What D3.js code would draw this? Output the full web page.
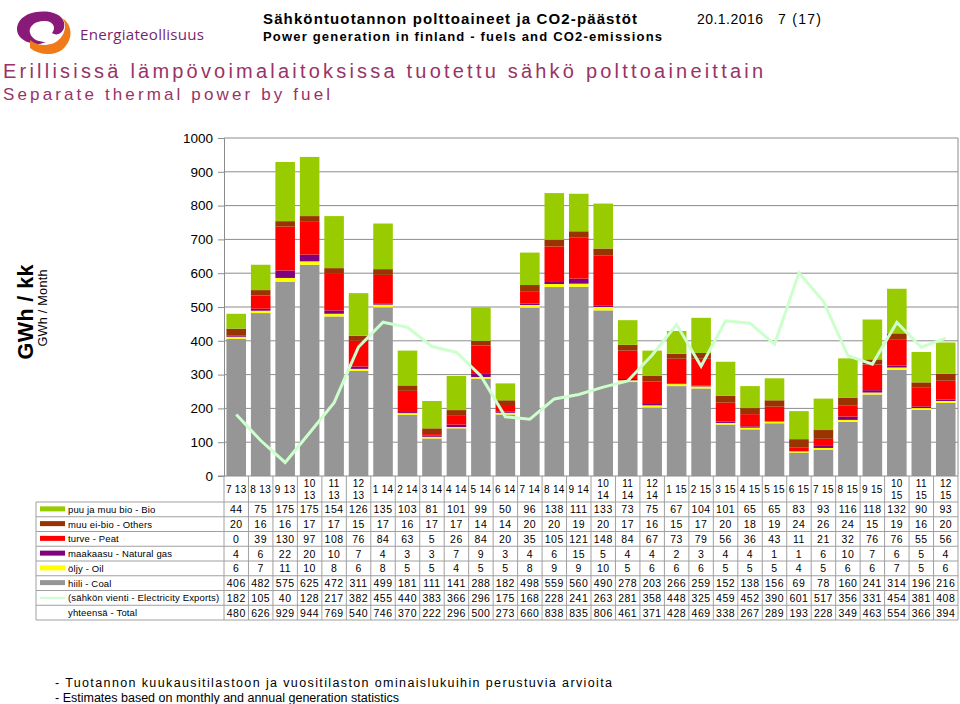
<!DOCTYPE html>
<html><head><meta charset="utf-8">
<script src="https://cdn.jsdelivr.net/npm/d3@7"></script>
<style>
body{margin:0;background:#fff;}
svg{font-family:"Liberation Sans",Arial,sans-serif;}
</style></head>
<body>
<svg id="c" width="960" height="704"></svg>
<script>
const categories = ["7 13","8 13","9 13","10 13","11 13","12 13","1 14","2 14","3 14","4 14","5 14","6 14","7 14","8 14","9 14","10 14","11 14","12 14","1 15","2 15","3 15","4 15","5 15","6 15","7 15","8 15","9 15","10 15","11 15","12 15"];
const bio    = [44,75,175,175,154,126,135,103,81,101,99,50,96,138,111,133,73,75,67,104,101,65,65,83,93,116,118,132,90,93];
const others = [20,16,16,17,17,15,17,16,17,17,14,14,20,20,19,20,17,16,15,17,20,18,19,24,26,24,15,19,16,20];
const peat   = [0,39,130,97,108,76,84,63,5,26,84,20,35,105,121,148,84,67,73,79,56,36,43,11,21,32,76,76,55,56];
const gas    = [4,6,22,20,10,7,4,3,3,7,9,3,4,6,15,5,4,4,2,3,4,4,1,1,6,10,7,6,5,4];
const oil    = [6,7,11,10,8,6,8,5,5,4,5,5,8,9,9,10,5,6,6,6,5,5,5,4,5,6,6,7,5,6];
const coal   = [406,482,575,625,472,311,499,181,111,141,288,182,498,559,560,490,278,203,266,259,152,138,156,69,78,160,241,314,196,216];
const exportsLine = [182,105,40,128,217,382,455,440,383,366,296,175,168,228,241,263,281,358,448,325,459,452,390,601,517,356,331,454,381,408];
const total  = [480,626,929,944,769,540,746,370,222,296,500,273,660,838,835,806,461,371,428,469,338,267,289,193,228,349,463,554,366,394];
const yTicks = [0,100,200,300,400,500,600,700,800,900,1000];

const series = [
  {key:"coal", label:"hiili - Coal", values:coal, color:"#969696"},
  {key:"oil", label:"öljy - Oil", values:oil, color:"#ffff00"},
  {key:"gas", label:"maakaasu - Natural gas", values:gas, color:"#800080"},
  {key:"peat", label:"turve - Peat", values:peat, color:"#ff0000"},
  {key:"others", label:"muu ei-bio - Others", values:others, color:"#993300"},
  {key:"bio", label:"puu ja muu bio - Bio", values:bio, color:"#99cc00"}
];
const lineColor = "#ccffcc";
const purple = "#993366";

const svg = d3.select("#c");

function fit(t, size, len) {
  t.attr("font-size", size);
  if (!len) return t;
  const nat = t.node().getComputedTextLength();
  if (nat > len * 0.98) t.attr("font-size", size * len * 0.97 / nat);
  t.attr("textLength", len).attr("lengthAdjust", "spacing");
  return t;
}
function txt(xp, yp, size, s, len, opts) {
  const t = svg.append("text").attr("x",xp).attr("y",yp).text(s);
  if (opts) Object.entries(opts).forEach(([k,v])=>t.attr(k,v));
  return fit(t, size, len);
}

// ---- header / logo
const logo = svg.append("g");
logo.append("path").attr("d","M40,44 C22,44 14,34 18,24 C22,14 36,10 50,12 C60,14 66,20 64,28 C62,34 56,36 52,33 C56,28 54,22 46,21 C36,20 28,26 30,33 C32,40 40,42 46,42 Z").attr("fill","#8a1a7a");
logo.append("path").attr("d","M30,40 C40,48 56,46 62,36 C66,30 66,22 62,18 C72,24 74,38 64,48 C56,56 40,56 30,48 Z").attr("fill","#ee7a1a");
txt(80,40,17,"Energiateollisuus",124,{"fill":"#7a1f6e","font-family":"'Open Sans','Liberation Sans',sans-serif"});

txt(263,24,15,"Sähköntuotannon polttoaineet ja CO2-päästöt",374,{"font-weight":"bold"});
txt(263,41,13,"Power generation in finland - fuels and CO2-emissions",399,{"font-weight":"bold"});
txt(697,24,14,"20.1.2016",66);
txt(778,24,14,"7 (17)",43);

txt(3,78,20,"Erillisissä lämpövoimalaitoksissa tuotettu sähkö polttoaineittain",760,{"fill":purple});
txt(3,100,17,"Separate thermal power by fuel",327,{"fill":purple});

// ---- y axis title
const yt1 = svg.append("text").attr("transform","translate(33,312) rotate(-90)").attr("text-anchor","middle").attr("font-weight","bold").text("GWh / kk");
fit(yt1, 23, 95);
const yt2 = svg.append("text").attr("transform","translate(47,308) rotate(-90)").attr("text-anchor","middle").text("GWh / Month");
fit(yt2, 13.5, 77);

// ---- scales
const x0 = 224, x1 = 958, yBot = 476, yTop = 138;
const x = d3.scaleBand().domain(categories).range([x0,x1]).paddingInner(0.2).paddingOuter(0.1);
const y = d3.scaleLinear().domain([0,1000]).range([yBot,yTop]);

svg.append("g").selectAll("line").data(yTicks.filter(d=>d>0)).join("line")
  .attr("x1",x0).attr("x2",x1).attr("y1",d=>y(d)).attr("y2",d=>y(d))
  .attr("stroke","#8c8c8c").attr("stroke-width",1);
svg.append("line").attr("x1",x1).attr("x2",x1).attr("y1",yTop).attr("y2",yBot).attr("stroke","#8c8c8c");

const yAxis = d3.axisLeft(y).tickValues(yTicks).tickSize(6).tickPadding(5).tickFormat(d3.format("d"));
const ya = svg.append("g").attr("transform",`translate(${x0},0)`).call(yAxis);
ya.select(".domain").attr("stroke","#8c8c8c");
ya.selectAll(".tick line").attr("stroke","#8c8c8c");
ya.selectAll(".tick text").attr("font-size",13.5).attr("fill","#000").attr("font-family","'Liberation Sans',Arial,sans-serif");

const rows = categories.map((c,i)=>{const o={cat:c}; series.forEach(s=>o[s.key]=s.values[i]); return o;});
const stack = d3.stack().keys(series.map(s=>s.key))(rows);
svg.append("g").selectAll("g").data(stack).join("g")
  .attr("fill",(d,i)=>series[i].color)
  .selectAll("rect").data(d=>d).join("rect")
  .attr("x",d=>x(d.data.cat)).attr("width",x.bandwidth())
  .attr("y",d=>y(d[1])).attr("height",d=>Math.max(0,y(d[0])-y(d[1])));

const line = d3.line().x((d,i)=>x(categories[i])+x.bandwidth()/2).y(d=>y(d));
svg.append("path").datum(exportsLine).attr("d",line).attr("fill","none").attr("stroke",lineColor).attr("stroke-width",3).attr("stroke-linejoin","miter");

svg.append("line").attr("x1",x0-6).attr("x2",x1).attr("y1",yBot).attr("y2",yBot).attr("stroke","#8c8c8c");

// ---- data table
const step = x.step();
const colLeft = i => x0 + i*step;
const catTop = yBot, catBot = 502, rowH = 14.75, tLeft = 36;
const tableRows = series.slice().reverse().map(s=>({label:s.label,values:s.values,color:s.color,type:"bar"}));
tableRows.push({label:"(sähkön vienti - Electricity Exports)",values:exportsLine,color:lineColor,type:"line"});
tableRows.push({label:"yhteensä - Total",values:total,color:null,type:"none"});
const tBot = catBot + rowH*tableRows.length;
const tg = svg.append("g");
const gridStroke = "#a0a0a0";
d3.range(tableRows.length+1).forEach(r=>{
  tg.append("line").attr("x1",tLeft).attr("x2",x1).attr("y1",catBot+r*rowH).attr("y2",catBot+r*rowH).attr("stroke",gridStroke);
});
d3.range(categories.length+1).forEach(i=>{
  tg.append("line").attr("x1",colLeft(i)).attr("x2",colLeft(i)).attr("y1",catTop).attr("y2",tBot).attr("stroke",gridStroke);
});
tg.append("line").attr("x1",tLeft).attr("x2",tLeft).attr("y1",catBot).attr("y2",tBot).attr("stroke",gridStroke);

categories.forEach((c,i)=>{
  const parts = c.split(" ");
  const cx = colLeft(i)+step/2;
  const t = tg.append("text").attr("x",cx).attr("text-anchor","middle").attr("font-size",10).attr("letter-spacing","0.3px");
  if (+parts[0] >= 10) {
    t.append("tspan").attr("x",cx).attr("y",487).text(parts[0]);
    t.append("tspan").attr("x",cx).attr("y",499).text(parts[1]);
  } else {
    t.attr("y",493).text(c);
  }
});
tableRows.forEach((r,ri)=>{
  const cy = catBot + ri*rowH + rowH/2;
  if (r.type==="bar") tg.append("rect").attr("x",40).attr("y",cy-3).attr("width",25).attr("height",5).attr("fill",r.color);
  if (r.type==="line") tg.append("line").attr("x1",40).attr("x2",65).attr("y1",cy).attr("y2",cy).attr("stroke",r.color).attr("stroke-width",2);
  tg.append("text").attr("x",68).attr("y",cy+3.5).attr("font-size",9.5).attr("letter-spacing","0.15px").text(r.label);
  r.values.forEach((v,i)=>{
    tg.append("text").attr("x",colLeft(i)+step/2).attr("y",cy+4).attr("text-anchor","middle").attr("font-size",10.5).attr("letter-spacing","0.5px").text(v);
  });
});

// notes
txt(55,687,12.5,"- Tuotannon kuukausitilastoon ja vuositilaston ominaislukuihin perustuvia arvioita",557);
txt(55,702,12.5,"- Estimates based on monthly and annual generation statistics");
</script>
</body></html>
